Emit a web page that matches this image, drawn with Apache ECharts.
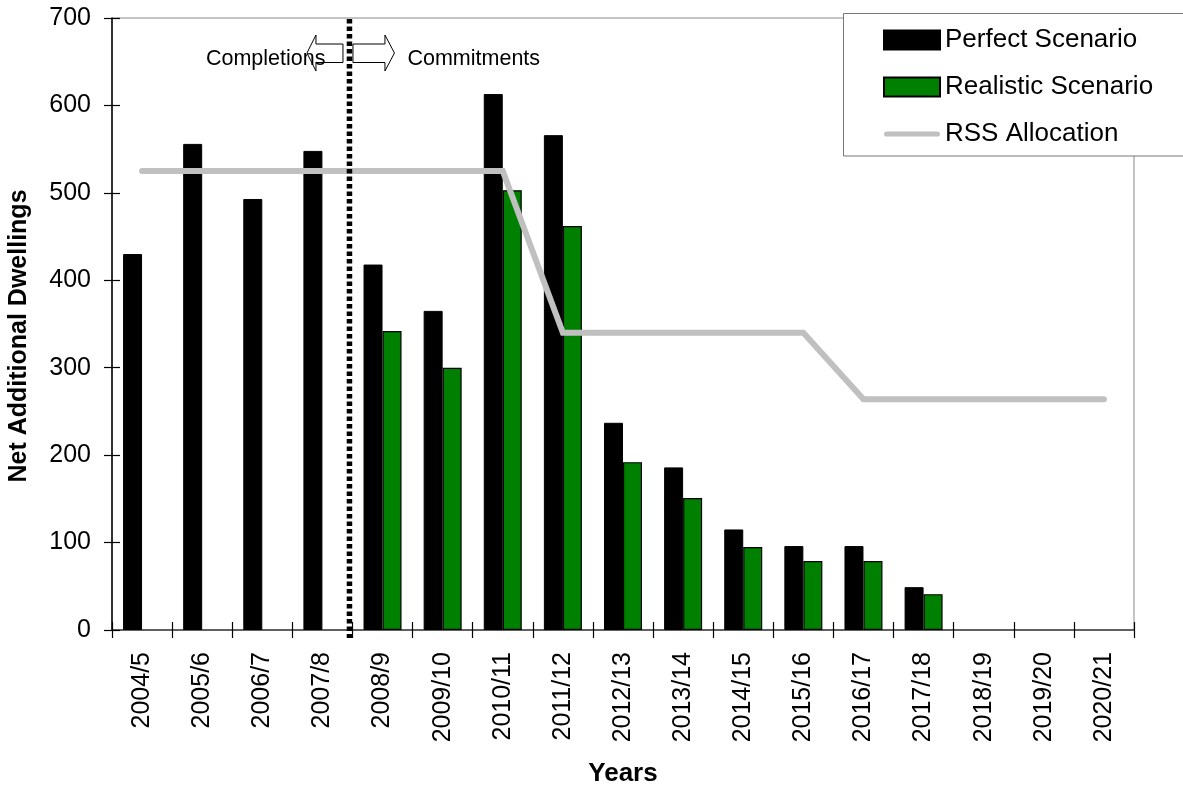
<!DOCTYPE html>
<html>
<head>
<meta charset="utf-8">
<script src="https://cdn.jsdelivr.net/npm/echarts@6/dist/echarts.min.js"></script>
<style>
  html, body { margin: 0; padding: 0; background: #fff; }
  #chart { width: 1183px; height: 786px; }
</style>
</head>
<body>
<div id="chart"></div>
<script>
// Financial years on the category axis
const years = ['2004/5', '2005/6', '2006/7', '2007/8', '2008/9', '2009/10', '2010/11', '2011/12',
  '2012/13', '2013/14', '2014/15', '2015/16', '2016/17', '2017/18', '2018/19', '2019/20', '2020/21'];

// Net additional dwellings per year
const perfect = [430, 556, 493, 548, 418, 365, 613, 566, 237, 186, 115, 96, 96, 49, null, null, null];
const realistic = [null, null, null, null, 342, 300, 503, 462, 192, 151, 95, 79, 79, 41, null, null, null];
const rssAllocation = [525, 525, 525, 525, 525, 525, 525, 340, 340, 340, 340, 340, 264, 264, 264, 264, 264];

// Value axis range
const yMin = 0, yMax = 700, yStep = 100;

// Split between completed years and commitments, in category units
const dividerAt = 3.95;

const FONT = '"Liberation Sans", Arial, sans-serif';

// Thick rounded stroke used as the legend key of the allocation line
const LINE_KEY = 'path://M2.6,0 L53.4,0 A2.6,2.6 0 0 1 53.4,5.2 L2.6,5.2 A2.6,2.6 0 0 1 2.6,0 Z';

const chart = echarts.init(document.getElementById('chart'), null, { renderer: 'canvas' });

const option = {
  animation: false,
  backgroundColor: '#fff',
  textStyle: { fontFamily: FONT },
  grid: {
    left: 112, right: 49, top: 18, bottom: 156,
    outerBoundsMode: 'none', containLabel: false,
    show: true, borderColor: '#888', borderWidth: 1, backgroundColor: 'transparent'
  },
  legend: {
    data: [
      { name: 'Perfect Scenario', icon: 'rect' },
      { name: 'Realistic Scenario', icon: 'rect' },
      { name: 'RSS Allocation', icon: LINE_KEY }
    ],
    orient: 'vertical',
    left: 878, top: 22,
    itemWidth: 56, itemHeight: 19, itemGap: 21,
    z: 10,
    textStyle: { fontSize: 26, fontFamily: FONT, color: '#000', lineHeight: 26 }
  },
  graphic: [{
    type: 'rect', z: 3, silent: true,
    shape: { x: 843.5, y: 13.5, width: 400, height: 142.5 },
    style: { fill: '#fff', stroke: '#777', lineWidth: 1 }
  }],
  xAxis: [{
    type: 'category', data: years, position: 'bottom',
    axisLine: { lineStyle: { color: '#404040', width: 1.5 } },
    axisTick: { show: true, interval: 0, length: 8, lineStyle: { color: '#000', width: 1.2 } },
    axisLabel: { interval: 0, rotate: 90, margin: 22, fontSize: 25, color: '#000', fontFamily: FONT },
    name: 'Years', nameLocation: 'middle', nameGap: 131,
    nameTextStyle: { fontSize: 26, fontWeight: 'bold', color: '#000', fontFamily: FONT }
  }, {
    type: 'category', data: years, position: 'bottom',
    axisLine: { show: false },
    axisTick: { show: true, inside: true, interval: 0, length: 8, lineStyle: { color: '#000', width: 1.2 } },
    axisLabel: { show: false }
  }, {
    type: 'value', min: 0, max: years.length, show: false
  }],
  yAxis: [{
    type: 'value', min: yMin, max: yMax, interval: yStep, position: 'left',
    axisLine: { show: true, lineStyle: { color: '#000', width: 1.5 } },
    axisTick: { show: true, length: 8, lineStyle: { color: '#000', width: 1.2 } },
    axisLabel: { margin: 21, fontSize: 25, color: '#000', fontFamily: FONT },
    splitLine: { show: false },
    name: 'Net Additional Dwellings', nameLocation: 'middle', nameGap: 80,
    nameTextStyle: { fontSize: 25, fontWeight: 'bold', color: '#000', fontFamily: FONT, padding: [0, 24, 0, 0] }
  }, {
    type: 'value', min: yMin, max: yMax, interval: yStep, position: 'left',
    axisLine: { show: false },
    axisTick: { show: true, inside: true, length: 8, lineStyle: { color: '#000', width: 1.2 } },
    axisLabel: { show: false },
    splitLine: { show: false }
  }],
  series: [{
    name: 'Perfect Scenario', type: 'bar', data: perfect,
    barWidth: 19, barGap: '0%',
    itemStyle: { color: '#000', borderColor: '#000', borderWidth: 1 }
  }, {
    name: 'Realistic Scenario', type: 'bar', data: realistic,
    barWidth: 19, barGap: '0%',
    itemStyle: { color: '#008000', borderColor: '#000', borderWidth: 1.2 }
  }, {
    name: 'RSS Allocation', type: 'line', data: rssAllocation,
    symbol: 'none', z: 5,
    lineStyle: { color: '#c0c0c0', width: 6, cap: 'round', join: 'miter' },
    itemStyle: { color: '#c0c0c0' }
  }, {
    // dotted divider with the Completions / Commitments annotation
    name: 'divider', type: 'custom', xAxisIndex: 2, yAxisIndex: 0, z: 8,
    silent: true, clip: false,
    data: [[dividerAt, yMin]],
    encode: { x: 0, y: 1 },
    renderItem: function (params, api) {
      const top = api.coord([api.value(0), yMax]);
      const bot = api.coord([api.value(0), yMin]);
      const x = top[0];
      const arrowStyle = { fill: 'none', stroke: '#000', lineWidth: 1 };
      return {
        type: 'group',
        children: [{
          type: 'line',
          shape: { x1: x, y1: top[1] + 1, x2: x, y2: bot[1] + 8 },
          style: { stroke: '#000', lineWidth: 5.5, lineDash: [4.5, 3] }
        }, {
          type: 'text',
          style: { text: 'Completions', x: x - 143.5, y: 59, align: 'left', verticalAlign: 'middle',
            fontSize: 21.5, fontFamily: FONT, fill: '#000' }
        }, {
          type: 'text',
          style: { text: 'Commitments', x: x + 58, y: 59, align: 'left', verticalAlign: 'middle',
            fontSize: 21.5, fontFamily: FONT, fill: '#000' }
        }, {
          type: 'polygon',
          shape: { points: [[x - 42.5, 53], [x - 33.5, 35], [x - 33.5, 44], [x - 6.5, 44],
            [x - 6.5, 62.5], [x - 33.5, 62.5], [x - 33.5, 71]] },
          style: arrowStyle
        }, {
          type: 'polygon',
          shape: { points: [[x + 3.5, 44], [x + 35.5, 44], [x + 35.5, 35], [x + 45, 53],
            [x + 35.5, 71], [x + 35.5, 62.5], [x + 3.5, 62.5]] },
          style: arrowStyle
        }]
      };
    }
  }]
};

chart.setOption(option);
</script>
</body>
</html>
